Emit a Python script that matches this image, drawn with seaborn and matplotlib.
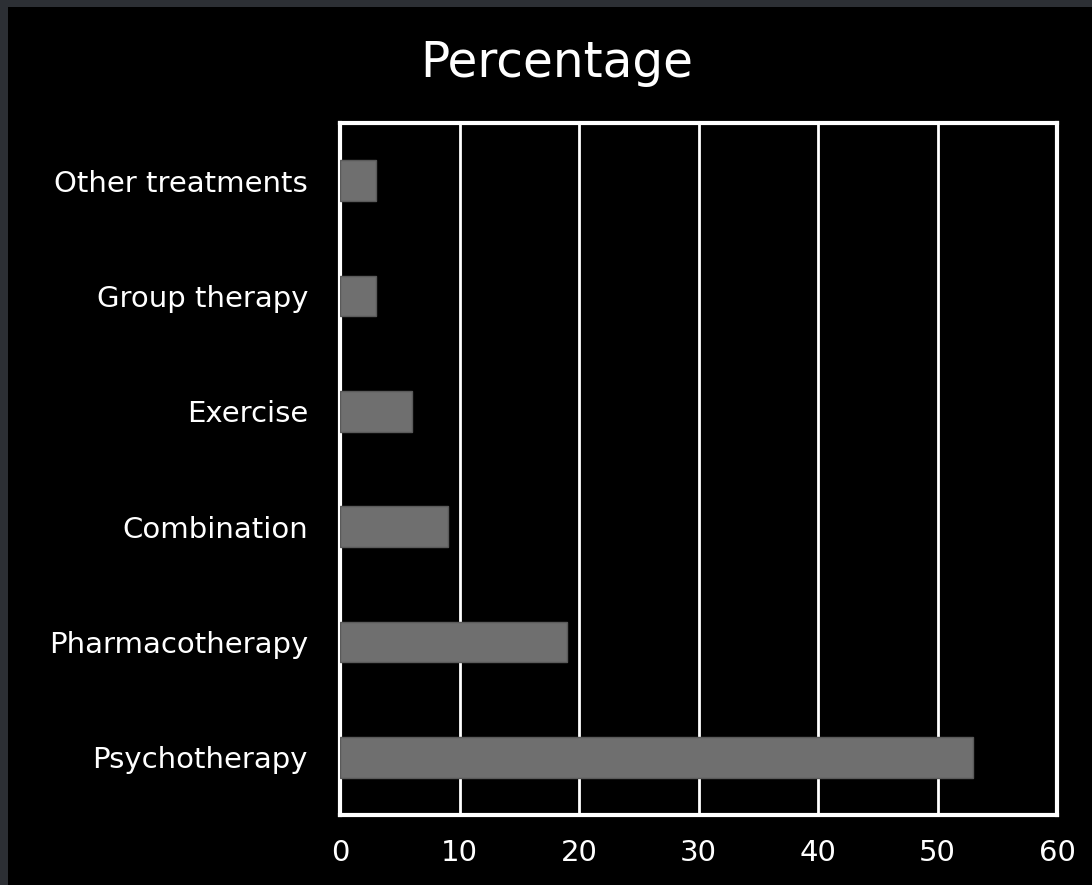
import matplotlib
matplotlib.use("Agg")
import matplotlib.pyplot as plt
import seaborn as sns
import pandas as pd
from matplotlib.patches import Rectangle

categories = ["Other treatments", "Group therapy", "Exercise", "Combination",
              "Pharmacotherapy", "Psychotherapy"]
values = [3, 3, 6, 9, 19, 53]
x_ticks = [0, 10, 20, 30, 40, 50, 60]
title = "Percentage"

sns.set_style("dark")
plt.rcParams['font.family'] = ['DejaVu Sans']
plt.rcParams['font.weight'] = 'normal'

W, H = 1092, 885
fig = plt.figure(figsize=(W / 100, H / 100), dpi=100, facecolor="#2c2f34")
fig.patches.append(Rectangle((8 / W, 0), 1, 1 - 7 / H,
                             transform=fig.transFigure, facecolor="black",
                             edgecolor="none", zorder=-5))
ax = fig.add_axes([340 / W, 1 - 815 / H, (1057 - 340) / W, (815 - 123) / H])
ax.set_facecolor("black")

df = pd.DataFrame({"cat": categories, "val": values})
sns.barplot(data=df, x="val", y="cat", order=categories, orient="h",
            color="#6f6f6f", saturation=1, width=0.35, edgecolor="#5a5a5a",
            linewidth=1, ax=ax, zorder=3)

ax.set_xlim(0, 60)
ax.set_ylim(5.5, -0.5)
ax.set_xticks(x_ticks)
ax.set_xticklabels([str(t) for t in x_ticks])
ax.grid(False)
for t in x_ticks[1:-1]:
    ax.axvline(t, color="white", lw=2, zorder=1)
for s in ax.spines.values():
    s.set_visible(True)
    s.set_color("white")
    s.set_linewidth(3)
ax.tick_params(axis="both", length=0, colors="white", labelsize=21)
ax.tick_params(axis="x", pad=17)
ax.tick_params(axis="y", pad=23)
ax.set_xlabel("")
ax.set_ylabel("")
fig.text(557 / W, 1 - 77 / H, title, color="white", fontsize=35,
         ha="center", va="baseline")

fig.savefig("out.png", dpi=100, facecolor=fig.get_facecolor())
